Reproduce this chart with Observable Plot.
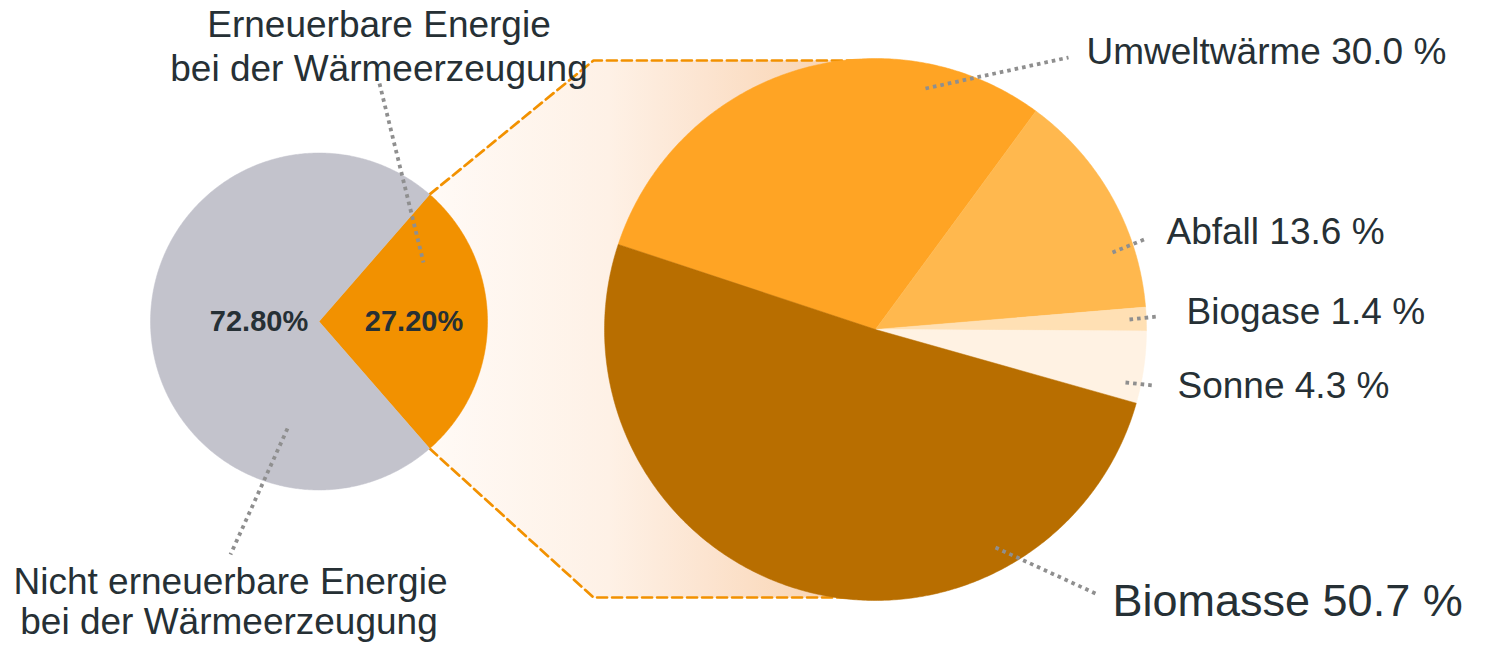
<!DOCTYPE html>
<html><head><meta charset="utf-8">
<script src="https://cdn.jsdelivr.net/npm/d3@7"></script>
<script src="https://cdn.jsdelivr.net/npm/@observablehq/plot@0.6"></script>
<style>html,body{margin:0;padding:0;background:#fff;} svg{display:block}</style>
</head><body><div id="chart"></div>
<script>
// ---- data ----
const shareKeys = ["Erneuerbare", "Nicht erneuerbare"];
const shareValues = [27.2, 72.8];
const shareText = ["27.20%", "72.80%"];
const shareLines = [
  ["Erneuerbare Energie", "bei der Wärmeerzeugung"],
  ["Nicht erneuerbare Energie", "bei der Wärmeerzeugung"]
];
const sourceNames = ["Umweltwärme", "Abfall", "Biogase", "Sonne", "Biomasse"];
const sourceValues = [30.0, 13.6, 1.4, 4.3, 50.7];

// ---- styles / layout ----
const shareColors = ["#f29100", "#c3c3cc"];
const sourceColors = ["#ffa424", "#ffb84e", "#ffe0b4", "#fff2e3", "#b86e00"];
const textColor = "#263035";
const font = "'Liberation Sans', Arial, Helvetica, sans-serif";
const W = 1508, H = 646;
const left = {cx: 318.5, cy: 321, r: 168.5};
const right = {cx: 875, cy: 329, r: 271};
const leftStart = Math.PI / 2 - (shareValues[0] / 100) * Math.PI; // renewable slice centred on the right
const rightStart = -71.7 * Math.PI / 180;
const pctRadius = [95, 60];
const shareLabelPos = [ // baselines of each text line, centred
  [{x: 378.5, y: 36}, {x: 378.5, y: 80}],
  [{x: 230, y: 593}, {x: 228.5, y: 633}]
];
const shareLeader = [
  [{x: 379, y: 83}, {x: 423, y: 262}],
  [{x: 287, y: 428}, {x: 230, y: 554}]
];
const sourceLabelPos = [
  {x: 1086, y: 63, size: 37},
  {x: 1166, y: 243, size: 37},
  {x: 1186, y: 323, size: 37},
  {x: 1177, y: 397, size: 37},
  {x: 1112, y: 615, size: 45}
];
const sourceLeader = [
  [{x: 925, y: 88}, {x: 1068, y: 57}],
  [{x: 1112, y: 252}, {x: 1146, y: 238}],
  [{x: 1129, y: 319}, {x: 1157, y: 316}],
  [{x: 1125, y: 382}, {x: 1153, y: 385}],
  [{x: 995, y: 547}, {x: 1095, y: 593}]
];

// ---- geometry helpers ----
function pt(c, r, a) { return {x: c.cx + r * Math.sin(a), y: c.cy - r * Math.cos(a)}; }
function slicePoly(c, a0, a1, key) {
  const pts = [{x: c.cx, y: c.cy, key}];
  const n = Math.max(2, Math.ceil((a1 - a0) / (Math.PI / 360)));
  for (let i = 0; i <= n; i++) pts.push({...pt(c, c.r, a0 + (a1 - a0) * i / n), key});
  pts.push({x: c.cx, y: c.cy, key});
  return pts;
}
const leftArcs = d3.pie().sort(null).startAngle(leftStart).endAngle(leftStart + 2 * Math.PI)(shareValues);
const rightArcs = d3.pie().sort(null).startAngle(rightStart).endAngle(rightStart + 2 * Math.PI)(sourceValues);

// fan between the pies
const pTop = pt(left, left.r, leftArcs[0].startAngle);
const pBot = pt(left, left.r, leftArcs[0].endAngle);
const fanX = 593, fanTop = right.cy - right.r + 2, fanBot = right.cy + right.r - 3;
const fanPoly = [pTop, {x: fanX, y: fanTop}, {x: right.cx, y: fanTop}, {x: right.cx, y: fanBot}, {x: fanX, y: fanBot}, pBot, pTop];
const fanTopLine = [pTop, {x: fanX, y: fanTop}, {x: right.cx, y: fanTop}];
const fanBotLine = [pBot, {x: fanX, y: fanBot}, {x: right.cx, y: fanBot}];

const marks = [];
marks.push(Plot.line(fanPoly, {x: "x", y: "y", fill: "url(#fanGrad)", stroke: "none"}));
const dashed = {x: "x", y: "y", stroke: "#f29100", strokeWidth: 2.7, strokeDasharray: "10,5"};
marks.push(Plot.line(fanTopLine, dashed));
marks.push(Plot.line(fanBotLine, dashed));
leftArcs.forEach((a, i) => {
  marks.push(Plot.line(slicePoly(left, a.startAngle, a.endAngle, shareKeys[i]), {x: "x", y: "y", fill: shareColors[i], stroke: shareColors[i], strokeWidth: 0.5}));
});
rightArcs.forEach((a, i) => {
  marks.push(Plot.line(slicePoly(right, a.startAngle, a.endAngle, sourceNames[i]), {x: "x", y: "y", fill: sourceColors[i], stroke: sourceColors[i], strokeWidth: 0.5}));
});
// leaders
const dotted = {x: "x", y: "y", stroke: "#8f8f8f", strokeWidth: 3.8, strokeDasharray: "3.6,4", strokeLinecap: "butt", strokeLinejoin: "miter"};
shareLeader.forEach(l => marks.push(Plot.line(l, dotted)));
sourceLeader.forEach(l => marks.push(Plot.line(l, dotted)));
// percentage labels
const pctData = leftArcs.map((a, i) => ({...pt(left, pctRadius[i], (a.startAngle + a.endAngle) / 2), t: shareText[i]}));
marks.push(Plot.text(pctData, {x: "x", y: "y", text: "t", fontSize: 29, fontWeight: "bold", fill: textColor, textAnchor: "middle", lineAnchor: "middle", fontFamily: font}));
// share labels
const shareTextData = shareLines.flatMap((lines, i) => lines.map((t, j) => ({...shareLabelPos[i][j], t})));
marks.push(Plot.text(shareTextData, {x: "x", y: "y", text: "t", fontSize: 37, fill: textColor, textAnchor: "middle", lineAnchor: "bottom", fontFamily: font}));
// source labels
const srcTextData = sourceNames.map((n, i) => ({...sourceLabelPos[i], t: `${n} ${sourceValues[i].toFixed(1)} %`}));
marks.push(Plot.text(srcTextData, {x: "x", y: "y", text: "t", fontSize: d => d.size, fill: textColor, textAnchor: "start", lineAnchor: "bottom", fontFamily: font}));

const chart = Plot.plot({
  width: W, height: H, margin: 0,
  x: {domain: [0, W], range: [0, W], axis: null},
  y: {domain: [0, H], range: [0, H], axis: null},
  style: {background: "#fff", fontFamily: font},
  marks
});
const svgEl = chart.tagName.toLowerCase() === "svg" ? chart : chart.querySelector("svg");
const ns = "http://www.w3.org/2000/svg";
const defs = document.createElementNS(ns, "defs");
const grad = document.createElementNS(ns, "linearGradient");
grad.setAttribute("id", "fanGrad");
grad.setAttribute("gradientUnits", "userSpaceOnUse");
grad.setAttribute("x1", 430); grad.setAttribute("x2", right.cx);
grad.setAttribute("y1", 0); grad.setAttribute("y2", 0);
[[0, "#fffaf6"], [0.4, "#fef1e6"], [0.62, "#fce4d0"], [1, "#f8cfa8"]].forEach(([o, c]) => {
  const s = document.createElementNS(ns, "stop");
  s.setAttribute("offset", o); s.setAttribute("stop-color", c);
  grad.appendChild(s);
});
defs.appendChild(grad);
svgEl.insertBefore(defs, svgEl.firstChild);
document.getElementById("chart").appendChild(chart);
</script>
</body></html>
